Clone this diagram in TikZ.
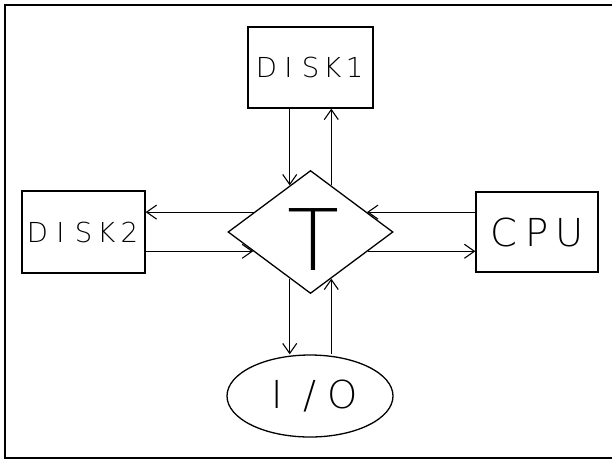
\documentclass[tikz,border=0pt]{standalone}
\usepackage{fontspec}
\IfFontExistsTF{DejaVu Sans ExtraLight}
  {\setmainfont{DejaVu Sans ExtraLight}}
  {\setmainfont{DejaVu Sans Mono}}
\usetikzlibrary{shapes.geometric,arrows.meta,calc}
\newcommand{\cbx}[2]{\makebox[#1][c]{#2}}
\begin{document}
\begin{tikzpicture}[x=1pt,y=-1pt,
  box/.style={draw,line width=1.3pt,inner sep=0pt},
  arr/.style={line width=1.1pt,-{Straight Barb[length=10pt,width=14pt,line width=1.1pt]}},
  small/.style={font=\fontsize{27.5}{27.5}\selectfont},
  big/.style={font=\fontsize{38.5}{38.5}\selectfont}]
\useasboundingbox (0,0) rectangle (612,459);
\draw[line width=1.6pt] (5,5) rectangle (618,458);
% nodes
\node[box,rectangle,minimum width=125pt,minimum height=81pt,small] (disk1) at (310.5,67.5)
  {\cbx{22pt}{D}\cbx{22pt}{I}\cbx{22pt}{S}\cbx{22pt}{K}\cbx{22pt}{1}};
\node[box,rectangle,minimum width=123pt,minimum height=82pt,small] (disk2) at (83.5,232)
  {\cbx{23pt}{D}\cbx{23pt}{I}\cbx{23pt}{S}\cbx{23pt}{K}\cbx{23pt}{2}};
\node[box,rectangle,minimum width=122pt,minimum height=80pt,big] (cpu) at (537,232)
  {\cbx{33pt}{C}\cbx{33pt}{P}\cbx{33pt}{U}};
\node[box,diamond,minimum width=165pt,minimum height=123pt,font=\fontsize{85}{85}\selectfont] (t) at (310.5,232)
  {\hspace*{5pt}\raisebox{-7pt}[62pt][0pt]{T}};
\node[box,ellipse,minimum width=166pt,minimum height=82pt,big] (io) at (310,396)
  {\cbx{33pt}{I}\cbx{33pt}{/}\cbx{33pt}{O}};
% edge points on the diamond
\coordinate (tn1) at ($(t.north)!.25!(t.west)$);
\coordinate (tn2) at ($(t.north)!.25!(t.east)$);
\coordinate (ts1) at ($(t.south)!.25!(t.west)$);
\coordinate (ts2) at ($(t.south)!.25!(t.east)$);
\coordinate (tw1) at ($(t.west)!.32!(t.north)$);
\coordinate (tw2) at ($(t.west)!.31!(t.south)$);
\coordinate (te1) at ($(t.east)!.32!(t.north)$);
\coordinate (te2) at ($(t.east)!.31!(t.south)$);
% connectors
\draw[arr] (tn1 |- disk1.south) -- (tn1);
\draw[arr] (tn2) -- (tn2 |- disk1.south);
\draw[arr] (tw1) -- (tw1 -| disk2.east);
\draw[arr] (tw2 -| disk2.east) -- (tw2);
\draw[arr] (te1 -| cpu.west) -- (te1);
\draw[arr] (te2) -- (te2 -| cpu.west);
\draw[arr] (ts1) -- (ts1 |- io.north);
\draw[arr] (ts2 |- io.north) -- (ts2);
\end{tikzpicture}
\end{document}
